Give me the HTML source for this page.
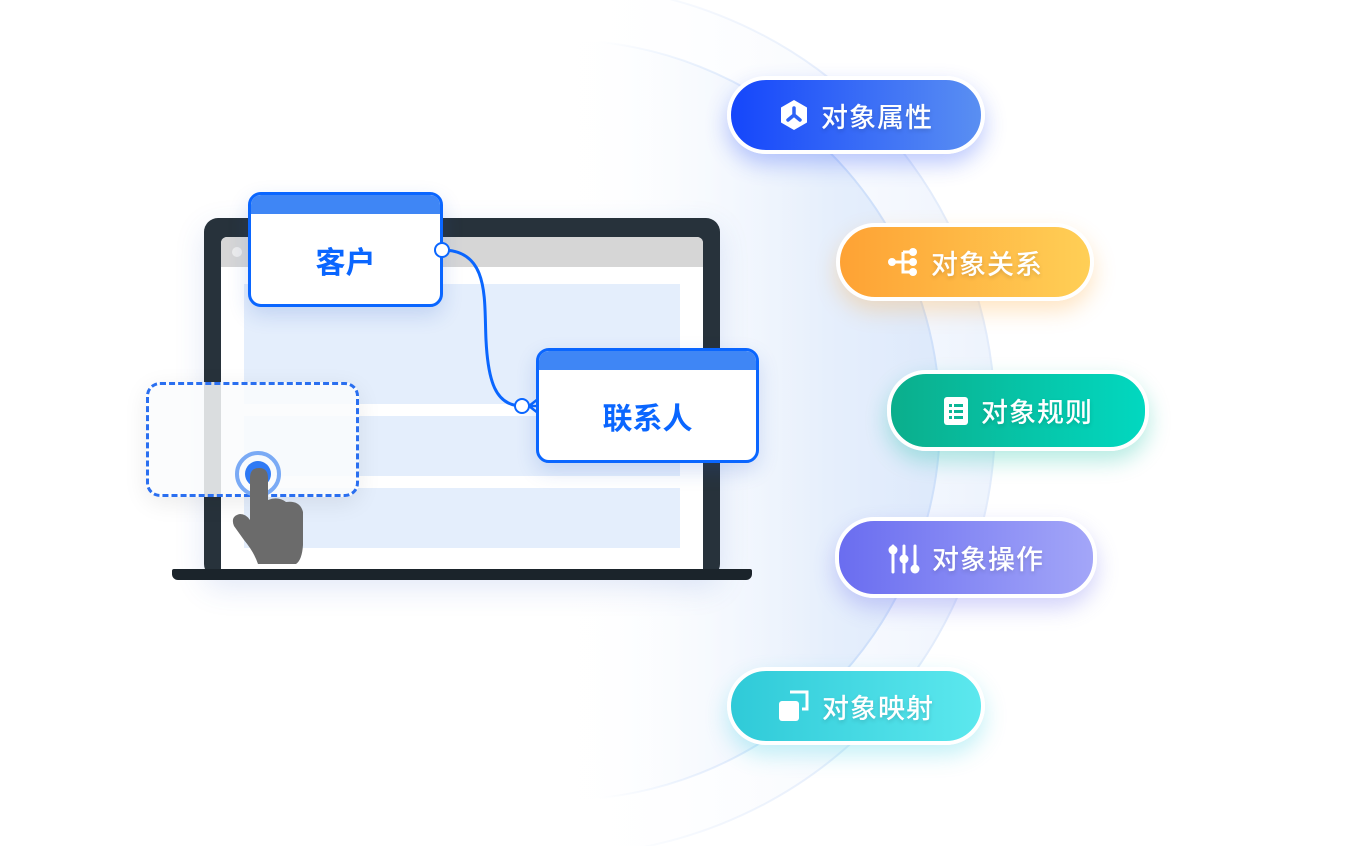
<!DOCTYPE html>
<html><head><meta charset="utf-8"><style>
*{margin:0;padding:0;box-sizing:border-box}
body{width:1364px;height:846px;background:#fff;position:relative;overflow:hidden;font-family:"Liberation Sans","Noto Sans CJK SC",sans-serif}
.abs{position:absolute}
.pill{position:absolute;width:258px;height:78px;border-radius:39px;border:4px solid #fff;color:#fff;font-size:27px;font-weight:500;display:flex;align-items:center;justify-content:center;gap:12px;letter-spacing:1px}
.pill span{text-shadow:0 2px 4px rgba(0,0,0,.15)}
.node{position:absolute;background:#fff;border:3px solid #0a66ff;border-radius:13px;overflow:hidden;box-shadow:0 8px 20px rgba(40,90,200,.18)}
.node .h{height:19px;background:#3f86f5}
.node .t{color:#0a66ff;font-size:30px;font-weight:bold;text-align:center}
</style></head><body>
<svg class="abs" style="left:0;top:0" width="1364" height="846">
 <defs>
  <linearGradient id="fo" x1="125" y1="0" x2="995" y2="0" gradientUnits="userSpaceOnUse">
   <stop offset="0.5" stop-color="#fff" stop-opacity="0"/><stop offset="1" stop-color="#edf3fd"/></linearGradient>
  <linearGradient id="fi" x1="180" y1="0" x2="940" y2="0" gradientUnits="userSpaceOnUse">
   <stop offset="0.5" stop-color="#fff" stop-opacity="0"/><stop offset="0.85" stop-color="#e6effc"/><stop offset="1" stop-color="#dde9fb"/></linearGradient>
  <linearGradient id="so" x1="125" y1="0" x2="995" y2="0" gradientUnits="userSpaceOnUse">
   <stop offset="0.55" stop-color="#e3ecfb" stop-opacity="0"/><stop offset="0.85" stop-color="#e3ecfb"/></linearGradient>
  <linearGradient id="si" x1="180" y1="0" x2="940" y2="0" gradientUnits="userSpaceOnUse">
   <stop offset="0.55" stop-color="#cfe0fa" stop-opacity="0"/><stop offset="0.85" stop-color="#cfe0fa"/></linearGradient>
 </defs>
 <circle cx="560" cy="420" r="435" fill="url(#fo)" stroke="url(#so)" stroke-width="2"/>
 <circle cx="560" cy="420" r="380" fill="url(#fi)" stroke="url(#si)" stroke-width="2"/>
</svg>

<!-- laptop -->
<div class="abs" style="left:204px;top:218px;width:516px;height:360px;background:#27323b;border-radius:14px;box-shadow:0 10px 30px rgba(60,100,200,.15)"></div>
<div class="abs" style="left:221px;top:237px;width:482px;height:332px;background:#fff;border-radius:6px 6px 0 0;overflow:hidden">
 <div style="height:30px;background:#d6d6d6"></div>
</div>
<div class="abs" style="left:232px;top:247px;width:10px;height:10px;border-radius:50%;background:#ececec"></div>
<div class="abs" style="left:244px;top:284px;width:436px;height:120px;background:#e4eefc"></div>
<div class="abs" style="left:244px;top:416px;width:436px;height:60px;background:#e4eefc"></div>
<div class="abs" style="left:244px;top:488px;width:436px;height:60px;background:#e4eefc"></div>
<div class="abs" style="left:172px;top:569px;width:580px;height:11px;background:#1b242b;border-radius:2px 2px 6px 6px"></div>

<!-- dashed box -->
<div class="abs" style="left:146px;top:382px;width:213px;height:115px;border:3px dashed #2a6ff0;border-radius:14px;background:rgba(250,251,253,.85);box-shadow:0 6px 24px rgba(0,0,0,.08)"></div>

<!-- connector -->
<svg class="abs" style="left:0;top:0" width="1364" height="846">
 <path d="M442 250 C490 250 484 300 486 340 C488 380 495 406 522 406" fill="none" stroke="#0a66ff" stroke-width="3"/>
 <path d="M529 406 L538 399 M529 406 L538 413 M529 406 L538 406" stroke="#0a66ff" stroke-width="2.5"/>
</svg>

<div class="node" style="left:248px;top:192px;width:195px;height:115px"><div class="h"></div><div class="t" style="margin-top:24px">客户</div></div>
<div class="node" style="left:536px;top:348px;width:223px;height:115px"><div class="h"></div><div class="t" style="margin-top:24px">联系人</div></div>

<svg class="abs" style="left:0;top:0" width="1364" height="846">
 <circle cx="442" cy="250" r="7" fill="#fff" stroke="#0a66ff" stroke-width="2"/>
 <circle cx="522" cy="406" r="7" fill="#fff" stroke="#0a66ff" stroke-width="2"/>
 <circle cx="258" cy="474" r="21" fill="none" stroke="#7aaaf5" stroke-width="4"/>
 <circle cx="258" cy="474" r="13" fill="#2f7af5"/>
 <path d="M250 478 Q250 468 259 468 Q268 468 268 478 L268 500 Q278 496 286 502 Q300 500 303 512 L303 545 Q302 560 296 564 L258 564 Q254 552 244 540 L234 526 Q230 516 240 514 Q246 514 250 520 Z" fill="#6b6b6b"/>
</svg>

<!-- pills -->
<div class="pill" style="left:727px;top:76px;background:linear-gradient(90deg,#1546fb,#5a8ff2);box-shadow:0 10px 22px rgba(40,80,250,.3)">
 <svg width="30" height="32" viewBox="0 0 30 32"><path d="M15 1 L28 8.5 V23.5 L15 31 L2 23.5 V8.5Z" fill="#fff"/><path d="M15 9 V16 L9 21 M15 16 L21 21" stroke="#2d63f6" stroke-width="3.5" fill="none" stroke-linecap="round"/></svg><span>对象属性</span></div>
<div class="pill" style="left:836px;top:223px;background:linear-gradient(90deg,#fea234,#ffcf56);box-shadow:0 10px 22px rgba(255,170,60,.3)">
 <svg width="32" height="30" viewBox="0 0 32 30"><circle cx="5" cy="15" r="4" fill="#fff"/><circle cx="26" cy="5" r="4" fill="#fff"/><circle cx="26" cy="15" r="4" fill="#fff"/><circle cx="26" cy="25" r="4" fill="#fff"/><path d="M5 15 H26 M16 5 H26 M16 5 V25 H26" stroke="#fff" stroke-width="3" fill="none"/></svg><span>对象关系</span></div>
<div class="pill" style="left:887px;top:370px;width:262px;height:81px;background:linear-gradient(90deg,#0bae8c,#02d8c0);box-shadow:0 10px 22px rgba(10,190,160,.3)">
 <svg width="26" height="30" viewBox="0 0 26 30"><rect x="1" y="1" width="24" height="28" rx="3" fill="#fff"/><g fill="#0bb596"><rect x="6" y="8" width="3" height="3"/><rect x="11" y="8" width="9" height="3"/><rect x="6" y="14" width="3" height="3"/><rect x="11" y="14" width="9" height="3"/><rect x="6" y="20" width="3" height="3"/><rect x="11" y="20" width="9" height="3"/></g></svg><span>对象规则</span></div>
<div class="pill" style="left:835px;top:517px;width:262px;height:81px;background:linear-gradient(90deg,#6a6df0,#a3a6f8);box-shadow:0 10px 22px rgba(110,110,240,.3)">
 <svg width="32" height="32" viewBox="0 0 32 32"><path d="M5 4 V30 M16 4 V30 M27 4 V26" stroke="#fff" stroke-width="3" stroke-linecap="round"/><circle cx="5" cy="8" r="4.5" fill="#fff"/><circle cx="16" cy="17" r="4.5" fill="#fff"/><circle cx="27" cy="27" r="4.5" fill="#fff"/></svg><span>对象操作</span></div>
<div class="pill" style="left:727px;top:667px;background:linear-gradient(90deg,#2fcad8,#5ce8ee);box-shadow:0 10px 22px rgba(60,210,230,.3)">
 <svg width="32" height="32" viewBox="0 0 32 32"><rect x="1" y="11" width="20" height="20" rx="3" fill="#fff"/><path d="M12 2 H29 V19 H24" stroke="#fff" stroke-width="3" fill="none"/></svg><span>对象映射</span></div>
</body></html>
